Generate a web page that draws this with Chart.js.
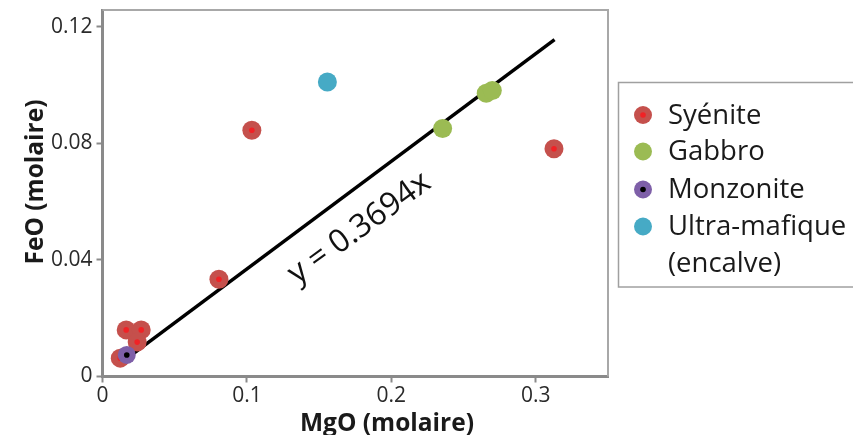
<!DOCTYPE html>
<html>
<head>
<meta charset="utf-8">
<script src="https://cdn.jsdelivr.net/npm/chart.js@4/dist/chart.umd.min.js"></script>
<style>
  html, body { margin: 0; padding: 0; background: #fff; }
  #wrap { width: 853px; height: 435px; position: relative; }
</style>
</head>
<body>
<div id="wrap"><canvas id="c" width="853" height="435"></canvas></div>
<script>
// ---- data ----
const syeniteX   = [0.1034, 0.3126, 0.0806, 0.0164, 0.0268, 0.0240, 0.0123];
const syeniteY   = [0.0845, 0.0782, 0.0334, 0.0160, 0.0160, 0.0118, 0.0063];
const gabbroX    = [0.2355, 0.2657, 0.2699];
const gabbroY    = [0.0851, 0.0972, 0.0982];
const monzoniteX = [0.0168];
const monzoniteY = [0.0074];
const ultraX     = [0.1557];
const ultraY     = [0.1011];
const trendX     = [0.016, 0.313];
const trendY     = [0.0059, 0.1156];
const xTicks     = [0, 0.1, 0.2, 0.3];
const yTicks     = [0, 0.04, 0.08, 0.12];
const seriesNames = ['Syénite', 'Gabbro', 'Monzonite', 'Ultra-mafique'];
const trendLabel = 'y = 0.3694x';
const xTitle = 'MgO (molaire)';
const yTitle = 'FeO (molaire)';

const pts = (xs, ys) => xs.map((x, i) => ({ x: x, y: ys[i] }));

const C = {
  syenite: '#C5504C', syeniteDot: '#F02226',
  gabbro: '#9BBB53', monz: '#7E5FA8', monzDot: '#000000', ultra: '#46AAC5'
};

const FONT = '"Open Sans", "Liberation Sans", sans-serif';

const framePlugin = {
  id: 'frame',
  beforeDatasetsDraw(chart) {
    const a = chart.chartArea, ctx = chart.ctx;
    ctx.save();
    ctx.strokeStyle = '#a8a8a8';
    ctx.lineWidth = 2;
    ctx.beginPath();
    ctx.moveTo(a.left, a.top);
    ctx.lineTo(a.right, a.top);
    ctx.lineTo(a.right, a.bottom);
    ctx.stroke();
    ctx.restore();
  },
  afterDraw(chart) {
    const ctx = chart.ctx, xs = chart.scales.x, ys = chart.scales.y;
    ctx.save();
    // trend-line equation
    const px = xs.getPixelForValue(0.1779), py = ys.getPixelForValue(0.0509);
    ctx.translate(px, py);
    ctx.rotate(-36 * Math.PI / 180);
    ctx.font = '32px ' + FONT;
    ctx.fillStyle = '#111';
    ctx.textAlign = 'center';
    ctx.textBaseline = 'middle';
    ctx.fillText(trendLabel, 0, 0);
    ctx.restore();

    // axis titles
    ctx.save();
    ctx.font = 'bold 24.5px ' + FONT;
    ctx.fillStyle = '#1a1a1a';
    ctx.textAlign = 'center';
    ctx.textBaseline = 'alphabetic';
    ctx.fillText(xTitle, 387, 431);
    ctx.translate(43, 182);
    ctx.rotate(-Math.PI / 2);
    ctx.fillText(yTitle, 0, 0);
    ctx.restore();

    // legend
    ctx.save();
    ctx.strokeStyle = '#a0a0a0';
    ctx.lineWidth = 1.5;
    ctx.strokeRect(618.5, 82.5, 260, 204.5);
    const cols = [C.syenite, C.gabbro, C.monz, C.ultra];
    const dots = [C.syeniteDot, null, C.monzDot, null];
    const rowY = [115, 151.5, 189.5, 226.5];
    ctx.font = '27.5px ' + FONT;
    ctx.textBaseline = 'middle';
    ctx.textAlign = 'left';
    for (let i = 0; i < seriesNames.length; i++) {
      ctx.beginPath();
      ctx.fillStyle = cols[i];
      ctx.arc(643, rowY[i], 9, 0, Math.PI * 2);
      ctx.fill();
      if (dots[i]) {
        ctx.beginPath();
        ctx.fillStyle = dots[i];
        ctx.arc(643, rowY[i], 2.8, 0, Math.PI * 2);
        ctx.fill();
      }
      ctx.fillStyle = '#1a1a1a';
      ctx.fillText(seriesNames[i], 668, rowY[i] + 1);
    }
    ctx.fillText('(encalve)', 668, 264);
    ctx.restore();
  }
};

const noPad = s => { s.paddingTop = 0; s.paddingBottom = 0; s.paddingLeft = 0; s.paddingRight = 0; };

new Chart(document.getElementById('c'), {
  type: 'scatter',
  data: {
    datasets: [
      { type: 'line', label: 'trend', data: pts(trendX, trendY), borderColor: '#000', borderWidth: 3.5,
        pointRadius: 0, showLine: true, fill: false, order: 10 },
      { label: seriesNames[0], data: pts(syeniteX, syeniteY), backgroundColor: C.syenite,
        borderWidth: 0, pointRadius: 9.5, order: 6 },
      { label: 'syeniteDot', data: pts(syeniteX, syeniteY), backgroundColor: C.syeniteDot,
        borderWidth: 0, pointRadius: 2.8, order: 5 },
      { label: seriesNames[1], data: pts(gabbroX, gabbroY), backgroundColor: C.gabbro,
        borderWidth: 0, pointRadius: 9.5, order: 4 },
      { label: seriesNames[2], data: pts(monzoniteX, monzoniteY), backgroundColor: C.monz,
        borderWidth: 0, pointRadius: 9, order: 3 },
      { label: 'monzDot', data: pts(monzoniteX, monzoniteY), backgroundColor: C.monzDot,
        borderWidth: 0, pointRadius: 2.8, order: 2 },
      { label: seriesNames[3], data: pts(ultraX, ultraY), backgroundColor: C.ultra,
        borderWidth: 0, pointRadius: 9.5, order: 1 }
    ]
  },
  options: {
    responsive: false,
    animation: false,
    devicePixelRatio: 1,
    layout: { padding: { left: 0, top: 10, right: 245, bottom: 0 } },
    plugins: { legend: { display: false }, tooltip: { enabled: false } },
    scales: {
      x: {
        type: 'linear', min: 0, max: 0.35,
        afterBuildTicks: s => { s.ticks = xTicks.map(v => ({ value: v })); },
        afterFit: s => { s.height = 58.5; noPad(s); },
        grid: { display: true, drawOnChartArea: false, drawTicks: true, tickLength: 6, tickWidth: 2, color: '#8a8a8a' },
        border: { display: true, color: '#8a8a8a', width: 3 },
        ticks: { color: '#2a2a2a', font: { family: FONT, size: 21 }, padding: 1,
                 callback: v => String(Math.round(v * 100) / 100), maxRotation: 0, autoSkip: false }
      },
      y: {
        type: 'linear', min: 0, max: 0.1258,
        afterBuildTicks: s => { s.ticks = yTicks.map(v => ({ value: v })); },
        afterFit: s => { s.width = 102.5; noPad(s); },
        grid: { display: true, drawOnChartArea: false, drawTicks: true, tickLength: 6, tickWidth: 2, color: '#8a8a8a' },
        border: { display: true, color: '#8a8a8a', width: 3 },
        ticks: { color: '#2a2a2a', font: { family: FONT, size: 21 }, padding: 4,
                 callback: v => String(Math.round(v * 100) / 100), autoSkip: false }
      }
    }
  },
  plugins: [framePlugin]
});
</script>
</body>
</html>
